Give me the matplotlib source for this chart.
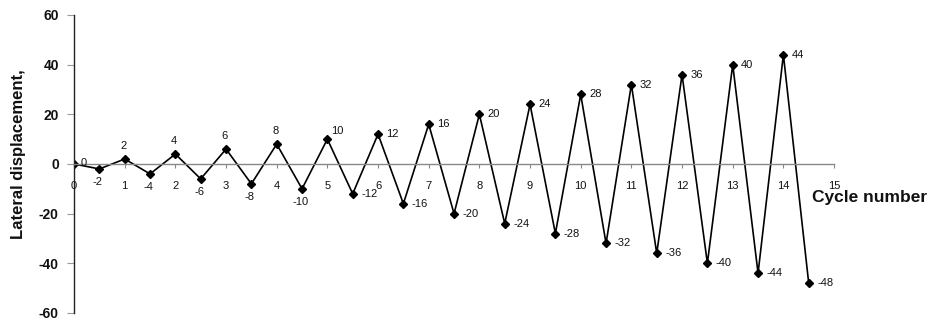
import matplotlib
matplotlib.use('Agg')
import matplotlib.pyplot as plt

plt.rcParams['font.family'] = ['Liberation Sans', 'DejaVu Sans']
plt.rcParams['axes.unicode_minus'] = False

## Loading protocol: lateral displacement at each half cycle
cycles = [0, 0.5, 1, 1.5, 2, 2.5, 3, 3.5, 4, 4.5, 5, 5.5, 6, 6.5, 7, 7.5,
          8, 8.5, 9, 9.5, 10, 10.5, 11, 11.5, 12, 12.5, 13, 13.5, 14, 14.5]
displacement = [0, -2, 2, -4, 4, -6, 6, -8, 8, -10, 10, -12, 12, -16, 16, -20,
                20, -24, 24, -28, 28, -32, 32, -36, 36, -40, 40, -44, 44, -48]
x_ticks = list(range(0, 16))
y_ticks = [-60, -40, -20, 0, 20, 40, 60]

fig = plt.figure(figsize=(9.48, 3.22), dpi=100)
ax = fig.add_axes([0.0781, 0.028, 0.8017, 0.9255])

ax.plot(cycles, displacement, color='black', lw=1.2, marker='D', ms=3.8,
        mec='black', mfc='black')

# data labels
for x, y in zip(cycles, displacement):
    if x == 0:
        off, ha, va = (5, 1), 'left', 'center'
    elif abs(y) <= 8 or y == -10:
        if y > 0:
            off, ha, va = (-1, 6), 'center', 'bottom'
        else:
            off, ha, va = (-1, -6), 'center', 'top'
    elif y == 10:
        off, ha, va = (3, 6), 'left', 'center'
    else:
        off, ha, va = (6, 0), 'left', 'center'
    ax.annotate(str(y), (x, y), xytext=off, textcoords='offset points',
                ha=ha, va=va, fontsize=8, color='#111111')

ax.set_xlim(0, 15)
ax.set_ylim(-60, 60)
ax.set_xticks(x_ticks)
ax.set_yticks(y_ticks)

ax.spines['top'].set_visible(False)
ax.spines['right'].set_visible(False)
ax.spines['bottom'].set_position(('data', 0))
ax.spines['bottom'].set_color('#888888')
ax.spines['left'].set_color('#222222')
ax.spines['bottom'].set_linewidth(1.0)
ax.spines['left'].set_linewidth(1.0)

ax.tick_params(axis='x', direction='out', length=3, width=0.8, colors='#888888',
               labelcolor='#111111', labelsize=8, pad=9)
ax.tick_params(axis='y', direction='out', length=5, width=0.8, colors='#999999',
               labelcolor='#111111', labelsize=10, pad=6)
for lab in ax.get_yticklabels():
    lab.set_fontweight('bold')

fig.text(0.019, 0.52, 'Lateral displacement,', rotation=90, ha='center', va='center',
         fontsize=12, fontweight='bold', color='#111111')
fig.text(0.857, 0.388, 'Cycle number', ha='left', va='center',
         fontsize=12.5, fontweight='bold', color='#111111')

fig.savefig('out.png', dpi=100)
